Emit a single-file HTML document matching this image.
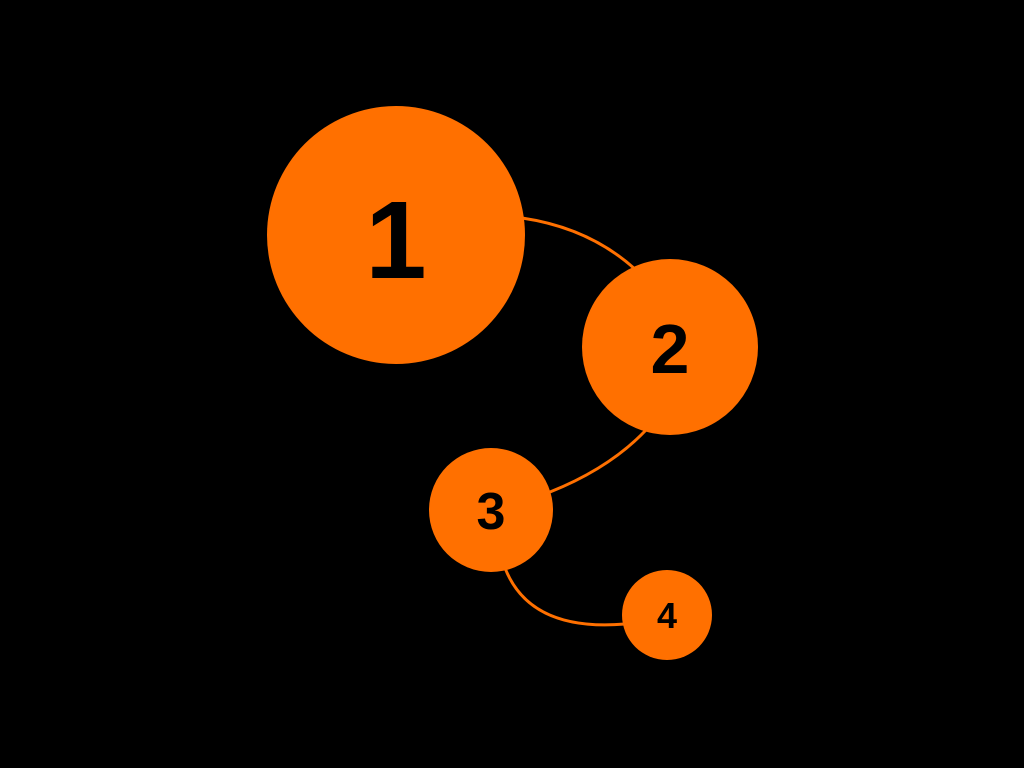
<!DOCTYPE html>
<html><head><style>
html,body{margin:0;padding:0;background:#000;width:1024px;height:768px;overflow:hidden}
</style></head><body>
<svg width="1024" height="768" viewBox="0 0 1024 768" xmlns="http://www.w3.org/2000/svg">
<rect width="1024" height="768" fill="#000"/>
<g fill="none" stroke="#FF7000" stroke-width="3">
<path d="M522 218 Q590 228 636 270"/>
<path d="M646 430 Q610 468 550 492"/>
<path d="M505 568 Q530 632 625 624"/>
</g>
<g fill="#FF7000">
<circle cx="396" cy="235" r="129"/>
<circle cx="670" cy="347" r="88"/>
<circle cx="491" cy="510" r="62"/>
<circle cx="667" cy="615" r="45"/>
</g>
<g fill="#000" font-family="Liberation Sans, sans-serif" font-weight="bold" text-anchor="middle">
<text x="396" y="278" font-size="110">1</text>
<text x="670" y="373" font-size="70">2</text>
<text x="491" y="529" font-size="52">3</text>
<text x="667" y="628" font-size="36">4</text>
</g>
</svg>
</body></html>
